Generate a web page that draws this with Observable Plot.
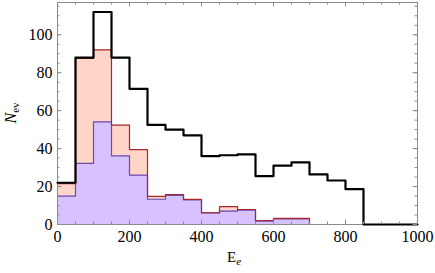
<!DOCTYPE html>
<html>
<head>
<meta charset="utf-8">
<script src="https://cdn.jsdelivr.net/npm/d3@7"></script>
<script src="https://cdn.jsdelivr.net/npm/@observablehq/plot@0.6"></script>
<style>
  html, body { margin: 0; padding: 0; background: #fff; }
  svg text { font-family: "Liberation Serif", serif; }
</style>
</head>
<body>
<div id="chart"></div>
<script>
// Bin left edges (width 50) of E_e
const binStarts = [0,50,100,150,200,250,300,350,400,450,500,550,600,650,700,750,800,850,900,950];
const binWidth = 50;
// Series values (events per bin)
const totalEvents = [22,88,112,88,71.5,52.5,50,47,36,36.5,37,25.5,31,32.7,26.4,23.2,18.6,0,0,0];
const redEvents   = [21.5,87.5,92,52.4,39.5,14.8,15.8,13.2,6.2,9.4,7.9,2.1,3.2,3.2,0,0,0,0,0,0];
const blueEvents  = [15,32.2,54.1,36.2,26,13.3,15.4,13,6.1,7.1,7.6,1.8,3,3,0,0,0,0,0,0];
// Tick values
const xMajorTicks = [0,200,400,600,800,1000];
const xMinorTicks = d3.range(0, 1001, 50);
const yMajorTicks = [0,20,40,60,80,100];
const yMinorTicks = d3.range(0, 116, 5);

function steps(values) {
  const pts = binStarts.map((x, i) => ({x, y: values[i]}));
  pts.push({x: binStarts[binStarts.length - 1] + binWidth, y: values[values.length - 1]});
  return pts;
}

const W = 435, H = 273;
const mL = 57, mR = 18, mT = 2, mB = 49;
const iW = W - mL - mR, iH = H - mT - mB;
const font = "Liberation Serif";
const frameColor = "#8c8c8c";

const svg = Plot.plot({
  width: W, height: H,
  marginLeft: mL, marginRight: mR, marginTop: mT, marginBottom: mB,
  style: {fontFamily: font, fontSize: "16px", background: "#fff", color: "#000"},
  x: {domain: [0, 1000]},
  y: {domain: [0, 117]},
  marks: [
    Plot.areaY(steps(redEvents), {x: "x", y: "y", curve: "step-after", fill: "#ffd5c9"}),
    Plot.areaY(steps(blueEvents), {x: "x", y: "y", curve: "step-after", fill: "#d7c2fd"}),
    Plot.lineY(steps(blueEvents), {x: "x", y: "y", curve: "step-after", stroke: "#6e4aa8", strokeWidth: 1.2}),
    Plot.lineY(steps(redEvents), {x: "x", y: "y", curve: "step-after", stroke: "#a8282c", strokeWidth: 1.2}),
    Plot.frame({stroke: frameColor, strokeWidth: 1}),
    Plot.lineY(steps(totalEvents), {x: "x", y: "y", curve: "step-after", stroke: "#000", strokeWidth: 2.2}),
    // inward ticks
    Plot.ruleX(xMinorTicks, {x: d => d, insetTop: iH - 2.5, stroke: frameColor}),
    Plot.ruleX(xMajorTicks, {x: d => d, insetTop: iH - 4.5, stroke: frameColor}),
    Plot.ruleX(xMinorTicks, {x: d => d, insetBottom: iH - 2.5, stroke: frameColor}),
    Plot.ruleX(xMajorTicks, {x: d => d, insetBottom: iH - 4.5, stroke: frameColor}),
    Plot.ruleY(yMinorTicks, {y: d => d, insetRight: iW - 2.5, stroke: frameColor}),
    Plot.ruleY(yMajorTicks, {y: d => d, insetRight: iW - 4.5, stroke: frameColor}),
    Plot.ruleY(yMinorTicks, {y: d => d, insetLeft: iW - 2.5, stroke: frameColor}),
    Plot.ruleY(yMajorTicks, {y: d => d, insetLeft: iW - 4.5, stroke: frameColor}),
    Plot.axisX({ticks: xMajorTicks, tickSize: 0, tickPadding: 6, fontSize: 16, fontFamily: font, label: null, tickFormat: d => String(d)}),
    Plot.axisY({ticks: yMajorTicks, tickSize: 0, tickPadding: 5, fontSize: 16, fontFamily: font, label: null, tickFormat: d => String(d)})
  ]
});

const s = d3.select(svg);
// x-axis label E_e
const xl = s.append("text")
  .attr("x", mL + iW / 2 - 3).attr("y", 262)
  .attr("text-anchor", "middle")
  .attr("font-family", font).attr("font-size", 15).attr("fill", "#000");
xl.append("tspan").text("E");
xl.append("tspan").attr("font-style", "italic").attr("font-size", 11).attr("dy", 3).text("e");
// y-axis label N_ev
const yl = s.append("text")
  .attr("transform", `translate(16, ${mT + iH / 2}) rotate(-90)`)
  .attr("text-anchor", "middle")
  .attr("font-family", font).attr("font-size", 16).attr("fill", "#000");
yl.append("tspan").attr("font-style", "italic").text("N");
yl.append("tspan").attr("font-size", 11).attr("dy", 3).text("ev");

document.getElementById("chart").appendChild(svg);
</script>
</body>
</html>
